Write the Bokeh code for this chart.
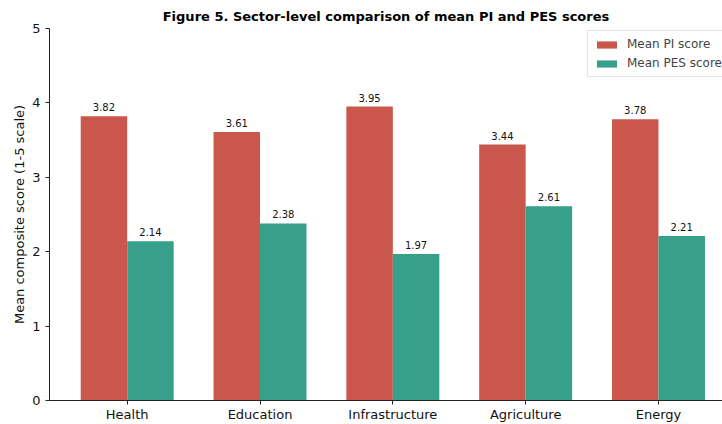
from bokeh.plotting import figure
from bokeh.models import ColumnDataSource, FixedTicker, Range1d, Legend, LegendItem, LabelSet
from bokeh.core.properties import value
from bokeh.embed import file_html
from bokeh.resources import INLINE

sectors = ["Health", "Education", "Infrastructure", "Agriculture", "Energy"]
pi_scores = [3.82, 3.61, 3.95, 3.44, 3.78]
pes_scores = [2.14, 2.38, 1.97, 2.61, 2.21]
y_ticks = [0, 1, 2, 3, 4, 5]

RED = "#C9574B"
TEAL = "#36A08A"
FONT = "DejaVu Sans"
bw = 0.35

idx = list(range(len(sectors)))
src_pi = ColumnDataSource(dict(x=[i - bw / 2 for i in idx], y=pi_scores,
                               lab=[f"{v:.2f}" for v in pi_scores]))
src_pes = ColumnDataSource(dict(x=[i + bw / 2 for i in idx], y=pes_scores,
                                lab=[f"{v:.2f}" for v in pes_scores]))

p = figure(width=722, height=424, output_backend="svg", toolbar_location=None,
           x_range=Range1d(-0.585, 4.482), y_range=Range1d(0, 5),
           min_border_left=49, min_border_right=0, min_border_bottom=0, min_border_top=28)

p.title.text = "Figure 5. Sector-level comparison of mean PI and PES scores"
p.title.text_font = FONT
p.title.text_font_size = "13px"
p.title.text_font_style = "bold"
p.title.align = "center"
p.title.offset = 13
p.title.text_color = "#000000"

r1 = p.vbar(x="x", top="y", width=bw, source=src_pi, fill_color=RED, line_color=None)
r2 = p.vbar(x="x", top="y", width=bw, source=src_pes, fill_color=TEAL, line_color=None)

for s in (src_pi, src_pes):
    p.add_layout(LabelSet(x="x", y="y", text="lab", source=s, text_align="center",
                          text_baseline="bottom", y_offset=5, text_font=value(FONT),
                          text_font_size=value("10px"), text_color="#111111"))

p.xgrid.visible = False
p.ygrid.visible = False
p.outline_line_color = None

xa = p.xaxis[0]
xa.ticker = FixedTicker(ticks=idx)
xa.major_label_overrides = {i: s for i, s in enumerate(sectors)}
xa.minor_tick_line_color = None
xa.major_tick_in = 0
xa.major_tick_out = 4
xa.major_label_text_font = FONT
xa.major_label_text_font_size = "13px"
xa.major_label_text_color = "#111111"
xa.axis_line_color = "#222222"
xa.major_tick_line_color = "#222222"
xa.major_label_standoff = 2

ya = p.yaxis[0]
ya.ticker = FixedTicker(ticks=y_ticks)
ya.minor_tick_line_color = None
ya.major_tick_in = 0
ya.major_tick_out = 4
ya.major_label_text_font = FONT
ya.major_label_text_font_size = "13px"
ya.major_label_text_color = "#111111"
ya.axis_line_color = "#222222"
ya.major_tick_line_color = "#222222"
ya.axis_label = "Mean composite score (1-5 scale)"
ya.axis_label_text_font = FONT
ya.axis_label_text_font_size = "13px"
ya.axis_label_text_font_style = "normal"
ya.axis_label_text_color = "#111111"
ya.axis_label_standoff = 2
ya.major_label_standoff = 5

legend = Legend(items=[LegendItem(label="Mean PI score", renderers=[r1]),
                       LegendItem(label="Mean PES score", renderers=[r2])],
                location=(538, 323), label_text_font=FONT, label_text_font_size="12px",
                glyph_width=25, glyph_height=9, label_height=12, spacing=5,
                padding=6, margin=0, border_line_color="#cccccc",
                border_line_width=1, label_standoff=8,
                background_fill_alpha=0.8)
p.add_layout(legend)

open("out.html", "w").write(file_html(p, INLINE))
